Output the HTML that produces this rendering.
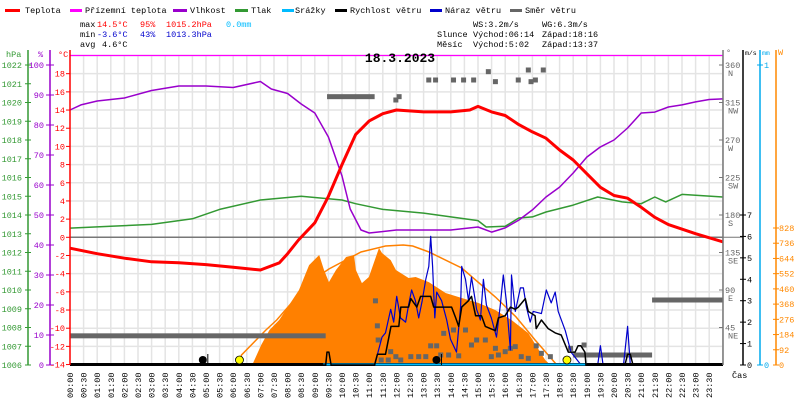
<!DOCTYPE html>
<html><head><meta charset="utf-8"><style>
body{margin:0;background:#fff}
svg{display:block}
text{font-family:"Liberation Mono",monospace;font-size:8.5px}
</style></head><body>
<svg id="c" width="800" height="400" viewBox="0 0 800 400" xmlns="http://www.w3.org/2000/svg">
<g font-size="8.5">
<rect x="5" y="9" width="15" height="3" fill="#f00"/><text x="25" y="13">Teplota</text>
<rect x="70" y="9" width="12" height="3" fill="#f0f"/><text x="85" y="13">Přízemní teplota</text>
<rect x="173" y="9" width="14" height="3" fill="#90c"/><text x="190" y="13">Vlhkost</text>
<rect x="235" y="9" width="13" height="3" fill="#393"/><text x="251" y="13">Tlak</text>
<rect x="282" y="9" width="12" height="3" fill="#0bf"/><text x="295" y="13">Srážky</text>
<rect x="335" y="9" width="12" height="3" fill="#000"/><text x="350" y="13">Rychlost větru</text>
<rect x="430" y="9" width="12" height="3" fill="#00c"/><text x="445" y="13">Náraz větru</text>
<rect x="510" y="9" width="12" height="3" fill="#666"/><text x="525" y="13">Směr větru</text>
</g>
<g>
<text x="80" y="27">max</text><text x="97" y="27" fill="#f00">14.5°C</text><text x="140" y="27" fill="#f00">95%</text><text x="166" y="27" fill="#f00">1015.2hPa</text><text x="226" y="27" fill="#0bf">0.0mm</text>
<text x="80" y="37">min</text><text x="97" y="37" fill="#00c">-3.6°C</text><text x="140" y="37" fill="#00c">43%</text><text x="166" y="37" fill="#00c">1013.3hPa</text>
<text x="80" y="47">avg</text><text x="102" y="47">4.6°C</text>
<text x="473" y="27">WS:3.2m/s</text><text x="542" y="27">WG:6.3m/s</text>
<text x="437" y="37">Slunce</text><text x="473" y="37">Východ:06:14</text><text x="542" y="37">Západ:18:16</text>
<text x="437" y="47">Měsíc</text><text x="473" y="47">Východ:5:02</text><text x="542" y="47">Západ:13:37</text>
</g>
<g id="grid"></g>
<g id="marks"></g>
<g id="axes"></g>
<text x="400" y="62" text-anchor="middle" font-weight="bold" style="font-size:13px">18.3.2023</text>
</svg>
<script>
const tempT=[0,1,2,3,4,5,6,7,7.7,8,8.4,9,9.5,10,10.5,11,11.5,12,13,14,14.7,15,15.5,16,16.5,17,17.5,18,18.5,19,19.5,20,20.5,21,21.5,22,23,24];
const tempV=[-1.2,-1.8,-2.3,-2.7,-2.8,-3.0,-3.3,-3.6,-2.8,-1.8,-0.3,1.6,4.5,8.0,11.3,12.8,13.6,14.0,13.8,13.8,14.0,14.4,13.8,13.4,12.4,11.6,10.9,9.6,8.5,7.0,5.5,4.6,4.3,3.3,2.2,1.4,0.4,-0.5];
const humT=[0,0.4,1,2,3,4,5,6,7,7.4,8,8.5,9,9.5,10,10.3,10.7,11,12,13,14,15,15.5,16,16.5,17,17.5,18,18.5,19,19.5,20,20.5,21,21.5,22,22.5,23,23.5,24];
const humV=[85,86.7,88,89,91.5,93,93,92.5,94.5,92,90.5,87,84,76,63,52,45,44,45,45,45,46,44.3,45.7,48.3,51.7,56,59.3,64,69.3,72.7,75,79,84,84.3,86,86.7,87.7,88.5,88.7];
const presT=[0,1.5,3,4.5,5.5,7,8.5,10,10.5,11.5,13,14,15,15.3,16,16.5,17,17.5,18.5,19.4,20.3,21,21.5,21.9,22.5,24];
const presV=[1013.3,1013.4,1013.5,1013.8,1014.3,1014.8,1015.0,1014.8,1014.6,1014.3,1014.1,1013.9,1013.7,1013.36,1013.4,1013.84,1013.9,1014.16,1014.53,1014.96,1014.7,1014.6,1014.96,1014.7,1015.1,1014.96];
const solT=[6.70,7.03,7.33,7.69,8.06,8.42,8.79,9.16,9.34,9.52,9.78,10.15,10.44,10.51,10.73,10.99,11.36,11.47,11.79,11.98,12.45,12.71,13.19,13.81,14.40,15.02,15.64,16.23,16.85,17.47,17.66];
const solV=[0,121,211,272,363,453,604,665,574,501,574,653,665,574,495,532,707,677,634,574,526,532,501,435,405,375,332,272,193,30,0];
const clearT=[6.23,6.3,7.2,7.6,8.4,9.2,9.52,10.7,11.6,12.25,12.6,13.2,14.4,15.64,16.4,17.1,17.9];
const clearV=[0,60,211,272,423,544,580,683,719,725,719,683,586,411,290,151,0];
const spdT=[0,9.4,9.45,9.52,9.6,11.2,11.3,11.6,11.8,12.09,12.16,12.45,12.53,12.75,12.89,13.26,13.37,14.03,14.18,14.29,14.4,14.65,14.76,14.91,15.13,15.27,15.64,15.75,16.0,16.19,16.37,16.48,16.74,16.85,17.1,17.14,17.33,17.58,17.84,18.06,18.32,18.57,18.68,18.78,18.93,18.97,20.4,20.5,20.6,20.7,24];
const spdV=[0,0,0.6,0.6,0,0,0.5,0.5,1.8,1.8,2.7,2.7,3.1,2.7,3.2,3.2,2.7,2.7,2.2,1.8,2.7,3.0,3.2,2.3,2.3,1.8,1.6,2.2,2.3,2.7,2.6,2.7,3.1,2.5,2.3,1.7,2.1,1.7,1.5,1.4,0.6,0.6,0.9,0.9,0.6,0,0,0.5,0.5,0,0];
const gstT=[11.2,11.47,11.6,11.79,11.9,12.01,12.15,12.34,12.45,12.56,12.7,12.82,12.95,13.08,13.19,13.26,13.33,13.41,13.48,13.66,13.85,13.99,14.21,14.36,14.40,14.54,14.65,14.76,14.9,14.95,15.09,15.2,15.31,15.49,15.68,15.82,15.93,16.04,16.19,16.23,16.37,16.56,16.67,16.78,16.92,17.03,17.33,17.51,17.69,17.84,17.95,18.21,18.42,18.79,19.4,19.5,19.6,20.35,20.5,20.6,24];
const gstV=[0,1.3,1.5,2.6,2.0,3.2,2.2,2.0,2.8,3.5,3.0,2.2,3.0,4.0,4.6,6.0,4.6,2.2,3.4,3.0,2.1,1.2,0.6,2.7,4.6,4.0,3.0,4.1,3.0,2.6,2.1,4.0,2.8,2.2,1.3,2.8,4.2,3.0,0.7,4.2,2.5,3.6,3.6,2.7,2.0,2.5,2.4,3.5,2.9,3.4,2.5,1.6,0.6,0,0,0.9,0,0,1.8,0,0];
const segStart=[0,9.45,18.5,21.4];
const segEnd=[9.4,11.2,21.4,24];
const segDeg=[35,322,12,78];
const dotT=[11.98,12.1,13.19,13.44,14.1,14.47,14.84,15.38,15.64,16.48,16.85,16.95,17.11,17.4,11.23,11.3,11.33,11.44,11.7,11.79,11.98,12.16,12.53,12.82,13.08,13.26,13.48,13.63,13.74,13.92,14.1,14.29,14.54,14.76,14.95,15.27,15.49,15.64,15.75,16.0,16.19,16.37,16.59,16.85,17.14,17.33,17.66,18.4,18.9];
const dotV=[318,322,342,342,342,342,342,352,340,342,354,340,342,354,77,47,30,6,6,16,10,6,10,10,10,23,23,12,38,12,42,11,42,24,30,30,10,20,12,16,20,22,10,8,23,14,10,20,24];
const hpaTicks=[1006,1007,1008,1009,1010,1011,1012,1013,1014,1015,1016,1017,1018,1019,1020,1021,1022];
const pctTicks=[0,10,20,30,40,50,60,70,80,90,100];
const cTicks=[-14,-12,-10,-8,-6,-4,-2,0,2,4,6,8,10,12,14,16,18];
const degTicks=[45,90,135,180,225,270,315,360];
const degNames=['NE','E','SE','S','SW','W','NW','N'];
const msTicks=[0,1,2,3,4,5,6,7];
const wTicks=[0,92,184,276,368,460,552,644,736,828];
const timeLabels=[];for(let i=0;i<48;i++){timeLabels.push(String(Math.floor(i/2)).padStart(2,'0')+':'+(i%2?'30':'00'));}

const X=h=>70+h*27.2, T=c=>237.3-c*9.09, P=p=>365-p*3, H=v=>365-(v-1006)*18.75,
 D=d=>365-d*300/360, M=v=>365-v*21.43, W=w=>365-w*137/828;
const NS='http://www.w3.org/2000/svg';
function mk(tag,attrs,parent){const e=document.createElementNS(NS,tag);for(const k in attrs)e.setAttribute(k,attrs[k]);parent.appendChild(e);return e;}
const grid=document.getElementById('grid'),marks=document.getElementById('marks'),axes=document.getElementById('axes');
for(let i=1;i<=48;i++){const l=mk('line',{x1:X(i/2),x2:X(i/2),y1:55,y2:365,stroke:'#e4e4e4','stroke-width':1.5},grid);

}
for(let c=-12;c<=20;c+=2){const l=mk('line',{x1:70,x2:723,y1:T(c),y2:T(c),stroke:c==0?'#777':'#e4e4e4','stroke-width':1.5},grid);

}
const zl=mk('line',{x1:723,x2:743,y1:T(0),y2:T(0),stroke:'#777'},grid);


function pts(ts,vs,fx,fy){return ts.map((t,i)=>fx(t).toFixed(1)+','+fy(vs[i]).toFixed(1)).join(' ');}
const sp=mk('polygon',{points:X(solT[0])+','+W(0)+' '+pts(solT,solV,X,W)+' '+X(solT[solT.length-1])+','+W(0),fill:'#ff8000'},marks);


const cs=mk('polyline',{points:pts(clearT,clearV,X,W),fill:'none',stroke:'#ff8000','stroke-width':1.5},marks);


segStart.forEach((s,i)=>{const r=mk('rect',{x:X(s),y:D(segDeg[i])-2.5,width:X(segEnd[i])-X(s),height:5,fill:'#666'},marks);

});
dotT.forEach((t,i)=>{const r=mk('rect',{x:X(t)-2.5,y:D(dotV[i])-2.5,width:5,height:5,fill:'#666'},marks);

});
function line(ts,vs,fy,col,w,name){const l=mk('polyline',{points:pts(ts,vs,X,fy),fill:'none',stroke:col,'stroke-width':w,'stroke-linejoin':'round'},marks);

}
const ap=mk('line',{x1:70,x2:723,y1:55.5,y2:55.5,stroke:'#f0f','stroke-width':1.2},marks);


line(presT,presV,H,'#393',1.5,'pressure-line');
line(humT,humV,P,'#90c',1.5,'humidity-line');
line(tempT,tempV,T,'#f00',3,'temperature-line');
line(gstT,gstV,M,'#00c',1.2,'wind-gust-line');
const bl=mk('line',{x1:70,x2:723,y1:364.5,y2:364.5,stroke:'#000','stroke-width':3},marks);


const pr=mk('line',{x1:X(9.3),x2:X(19),y1:364.5,y2:364.5,stroke:'#0bf','stroke-width':2},marks);


line(spdT,spdV,M,'#000',1.5,'wind-speed-line');
[[6.23,'sunrise-icon'],[18.27,'sunset-icon']].forEach(a=>{const c=mk('circle',{cx:X(a[0]),cy:360,r:4,fill:'#ff0',stroke:'#000','stroke-width':0.8},marks);

});
[[5.03,'moonrise-icon'],[13.62,'moonset-icon']].forEach(a=>{const c=mk('circle',{cx:X(a[0])-4,cy:360,r:4,fill:'#000'},marks);


mk('line',{x1:X(a[0])+1,x2:X(a[0])+1,y1:354,y2:365,stroke:'#000'},marks);});
function vaxis(x,col,name){const l=mk('line',{x1:x,x2:x,y1:50,y2:365,stroke:col,'stroke-width':1.5},axes);

}
vaxis(28,'#393','hpa-axis');vaxis(50,'#90c','humidity-axis');vaxis(70,'#f00','temperature-axis');
vaxis(723,'#777','direction-axis');vaxis(743,'#000','wind-speed-axis');vaxis(760,'#0ae','precip-axis');vaxis(776,'#f80','radiation-axis');
function lab(x,y,s,col,anchor,name){const t=mk('text',{x:x,y:y,fill:col,'text-anchor':anchor||'start'},axes);t.textContent=s;

return t;}
hpaTicks.forEach(v=>{mk('line',{x1:25,x2:31,y1:H(v),y2:H(v),stroke:'#393'},axes);lab(22,H(v)+3,v,'#393','end','hpa-tick-label');});
pctTicks.forEach(v=>{mk('line',{x1:46,x2:54,y1:P(v),y2:P(v),stroke:'#90c'},axes);lab(44,P(v)+3,v,'#90c','end','humidity-tick-label');});
cTicks.forEach(v=>{mk('line',{x1:66,x2:70,y1:T(v),y2:T(v),stroke:'#f00'},axes);lab(65,T(v)+3,v,'#f00','end','temperature-tick-label');});
degTicks.forEach((v,i)=>{mk('line',{x1:719,x2:723,y1:D(v),y2:D(v),stroke:'#777'},axes);lab(725,D(v)+3,v,'#666','start','direction-tick-label');lab(728,D(v)+11,degNames[i],'#666','start','direction-name-label');});
msTicks.forEach(v=>{mk('line',{x1:740,x2:746,y1:M(v),y2:M(v),stroke:'#000'},axes);lab(747,M(v)+3,v,'#000','start','wind-speed-tick-label');});
[0,1].forEach(v=>{const y=365-v*300;mk('line',{x1:757,x2:763,y1:y,y2:y,stroke:'#0ae'},axes);lab(764,y+3,v,'#0ae','start','precip-tick-label');});
wTicks.forEach(v=>{mk('line',{x1:773,x2:779,y1:W(v),y2:W(v),stroke:'#f80'},axes);lab(779,W(v)+3,v,'#f80','start','radiation-tick-label');});
lab(6,57,'hPa','#393','start','hpa-unit');lab(38,57,'%','#90c','start','humidity-unit');lab(58,57,'°C','#f00','start','temperature-unit');
lab(726,55,'°','#666','start','direction-unit');
const ms=lab(745,55,'m/s','#000','start','wind-speed-unit');ms.setAttribute('style','font-size:6.5px');
const mm=lab(762,55,'mm','#0ae','start','precip-unit');mm.setAttribute('style','font-size:6.5px');
lab(778,55,'W','#f80','start','radiation-unit');
lab(732,378,'Čas','#000','start','time-axis-title');
timeLabels.forEach((s,i)=>{const x=X(i/2)+3,y=398;const t=lab(x,y,s,'#000','start','time-tick-label');t.setAttribute('transform','rotate(-90 '+x+' '+y+')');});
</script>
</body></html>
